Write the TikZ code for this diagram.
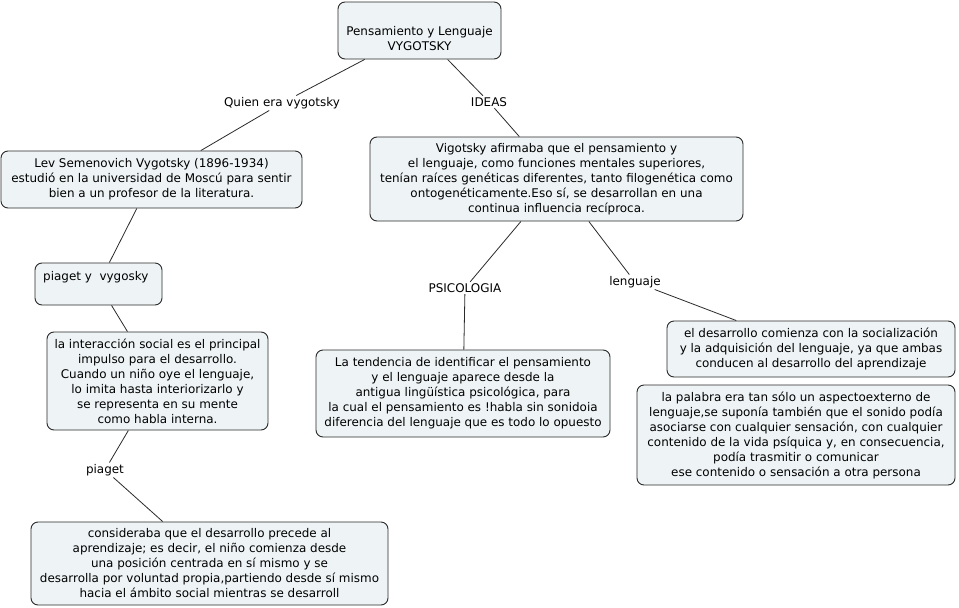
\documentclass[tikz,border=0pt]{standalone}
\usepackage{fontspec}
\setmainfont{DejaVu Sans}
\definecolor{boxfill}{HTML}{EEF3F5}
\definecolor{edge}{HTML}{2A2A2A}
\newcommand{\fs}{\fontsize{11.95}{15}\selectfont}
\tikzset{
  concept/.style={draw=edge, fill=boxfill, rounded corners=7pt, line width=0.9pt, align=center, inner sep=0pt, font=\fs},
  txt/.style={align=center, inner sep=0pt, font=\fs},
  lbl/.style={inner sep=1.5pt, font=\fs},
  conn/.style={draw=edge, line width=0.8pt}
}
\begin{document}
\begin{tikzpicture}[x=1pt,y=-1pt]
\useasboundingbox[fill=white] (0,0) rectangle (959,608);
% boxes
\node[concept, minimum width=163, minimum height=57] (top) at (419.5,30.5) {};
\node[txt] (toptxt) at (419.5,38.5) {Pensamiento y Lenguaje\\VYGOTSKY};
\node[concept, minimum width=301, minimum height=57] (lev) at (151.5,179.5)
  {Lev Semenovich Vygotsky (1896-1934)\\estudió en la universidad de Moscú para sentir\\bien a un profesor de la literatura.};
\node[concept, minimum width=373, minimum height=84] (vig) at (556.5,179)
  {Vigotsky afirmaba que el pensamiento y\\el lenguaje, como funciones mentales superiores,\\tenían raíces genéticas diferentes, tanto filogenética como\\ontogenéticamente.Eso sí, se desarrollan en una\\continua influencia recíproca.};
\node[concept, minimum width=127, minimum height=42] (pvy) at (98.5,284) {};
\node[txt, anchor=west] (pvytxt) at (43,277) {piaget y~~vygosky};
\node[concept, minimum width=221, minimum height=98] (inter) at (157.5,381)
  {la interacción social es el principal\\impulso para el desarrollo.\\Cuando un niño oye el lenguaje,\\lo imita hasta interiorizarlo y\\se representa en su mente\\como habla interna.};
\node[concept, minimum width=357, minimum height=83] (cons) at (209.5,563.5)
  {consideraba que el desarrollo precede al\\aprendizaje; es decir, el niño comienza desde\\una posición centrada en sí mismo y se\\desarrolla por voluntad propia,partiendo desde sí mismo\\hacia el ámbito social mientras se desarroll};
\node[concept, minimum width=294, minimum height=87] (tend) at (463,393.5)
  {La tendencia de identificar el pensamiento\\y el lenguaje aparece desde la\\antigua lingüística psicológica, para\\la cual el pensamiento es !habla sin sonidoia\\diferencia del lenguaje que es todo lo opuesto};
\node[concept, minimum width=288, minimum height=56] (des) at (811,349)
  {el desarrollo comienza con la socialización\\y la adquisición del lenguaje, ya que ambas\\conducen al desarrollo del aprendizaje};
\node[concept, minimum width=318, minimum height=100] (pal) at (796,435)
  {la palabra era tan sólo un aspectoexterno de\\lenguaje,se suponía también que el sonido podía\\asociarse con cualquier sensación, con cualquier\\contenido de la vida psíquica y, en consecuencia,\\podía trasmitir o comunicar\\ese contenido o sensación a otra persona};
% labels
\node[lbl] (quien) at (282,103) {Quien era vygotsky};
\node[lbl] (ideas) at (489,102) {IDEAS};
\node[lbl] (psi) at (465,288) {PSICOLOGIA};
\node[lbl] (leng) at (635,282) {lenguaje};
\node[lbl] (piag) at (105,470) {piaget};
% connectors
\draw[conn] (top) -- (quien);
\draw[conn] (quien) -- (lev);
\draw[conn] (top) -- (ideas);
\draw[conn] (ideas) -- (vig);
\draw[conn] (lev) -- (pvy);
\draw[conn] (pvy) -- (inter);
\draw[conn] (inter) -- (piag);
\draw[conn] (piag) -- (cons);
\draw[conn] (vig) -- (psi);
\draw[conn] (psi) -- (tend);
\draw[conn] (vig) -- (leng);
\draw[conn] (leng) -- (des);
\end{tikzpicture}
\end{document}
